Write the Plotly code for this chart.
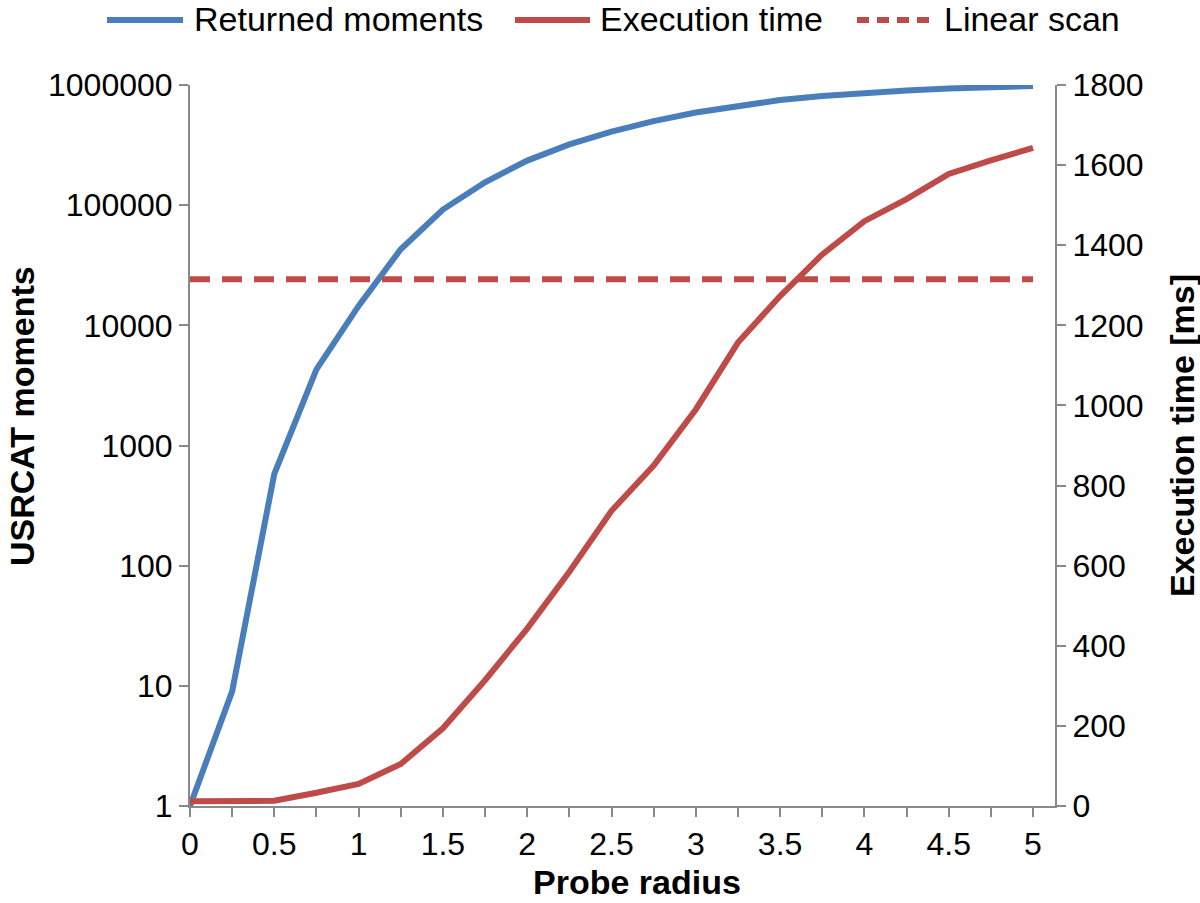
import plotly.graph_objects as go

# probe radius steps
radius = [0, 0.25, 0.5, 0.75, 1, 1.25, 1.5, 1.75, 2, 2.25, 2.5,
          2.75, 3, 3.25, 3.5, 3.75, 4, 4.25, 4.5, 4.75, 5]

# returned USRCAT moments (left, log axis)
returned_moments = [1, 9, 580, 4300, 14500, 43000, 92000, 155000, 235000, 320000, 410000,
                    500000, 590000, 670000, 750000, 810000, 860000, 900000, 935000, 960000, 980000]

# execution time in ms (right axis)
execution_ms = [12, 12, 13, 33, 55, 105, 194, 314, 443, 585, 737,
                850, 990, 1157, 1273, 1377, 1460, 1515, 1578, 1612, 1643]

# linear scan time, ms
linear_scan_ms = 1315

left_ticks = [1, 10, 100, 1000, 10000, 100000, 1000000]
left_ticktext = ["1", "10", "100", "1000", "10000", "100000", "1000000"]

BLUE = "#4a7ebb"
RED = "#be4b48"
AXIS = "#898989"
FONT = "Liberation Sans, Arial, sans-serif"

W, H = 1200, 903
L, R, T, B = 190, 145, 85, 97


# pixel -> paper helpers for the decorations (legend, titles)
def px(x):
    return (x - L) / (W - L - R)


def py(y):
    return (H - B - y) / (H - T - B)


fig = go.Figure()

fig.add_trace(go.Scatter(
    x=radius, y=execution_ms, name="Execution time", mode="lines",
    line=dict(color=RED, width=6), yaxis="y2"))

fig.add_trace(go.Scatter(
    x=[radius[0], radius[-1]], y=[linear_scan_ms, linear_scan_ms],
    name="Linear scan", mode="lines",
    line=dict(color=RED, width=6, dash="20px,12px"), yaxis="y2"))

fig.add_trace(go.Scatter(
    x=radius, y=returned_moments, name="Returned moments", mode="lines",
    line=dict(color=BLUE, width=6), yaxis="y"))

tick_style = dict(showgrid=False, zeroline=False, showline=True, linecolor=AXIS,
                  linewidth=2, ticks="outside", ticklen=9, tickcolor=AXIS,
                  tickwidth=2, automargin=False, tickfont=dict(size=32))

fig.update_layout(
    width=W, height=H,
    margin=dict(l=L, r=R, t=T, b=B, autoexpand=False),
    paper_bgcolor="white", plot_bgcolor="white",
    font=dict(family=FONT, size=32, color="black"),
    showlegend=False,
    xaxis=dict(range=[0, 5 * (W - L - R) / 843], tickvals=radius[::2],
               minor=dict(tickvals=radius, ticks="outside", ticklen=9,
                          tickcolor=AXIS, tickwidth=2),
               **tick_style),
    yaxis=dict(type="log", range=[0, 6], tickvals=left_ticks,
               ticktext=left_ticktext, **tick_style),
    yaxis2=dict(range=[0, 1800], dtick=200, overlaying="y", side="right",
                **tick_style),
)

# legend drawn along the top, as in the reference
legend_items = [("Returned moments", BLUE, "solid", 107, 183, 192),
                ("Execution time", RED, "solid", 515, 590, 598),
                ("Linear scan", RED, "12px,8px", 857, 933, 942)]
for name, color, dash, x0, x1, xt in legend_items:
    fig.add_shape(type="line", xref="paper", yref="paper",
                  x0=px(x0), x1=px(x1), y0=py(20), y1=py(20),
                  line=dict(color=color, width=6, dash=dash))
    fig.add_annotation(text=name, xref="paper", yref="paper",
                       x=px(xt), y=py(19), xanchor="left", yanchor="middle",
                       showarrow=False, font=dict(family=FONT, size=34))

# axis titles
title_font = dict(family=FONT, size=34, color="black")
fig.add_annotation(text="<b>Probe radius</b>", xref="paper", yref="paper",
                   x=px(637), y=py(882), xanchor="center", yanchor="middle",
                   showarrow=False, font=title_font)
fig.add_annotation(text="<b>USRCAT moments</b>", xref="paper", yref="paper",
                   x=px(22), y=py(416), xanchor="center", yanchor="middle",
                   textangle=-90, showarrow=False, font=title_font)
fig.add_annotation(text="<b>Execution time [ms]</b>", xref="paper", yref="paper",
                   x=px(1182), y=py(436), xanchor="center", yanchor="middle",
                   textangle=-90, showarrow=False, font=title_font)

fig.write_html("out.html", config={"displayModeBar": False},
               post_script="document.body.style.margin='0px';")
